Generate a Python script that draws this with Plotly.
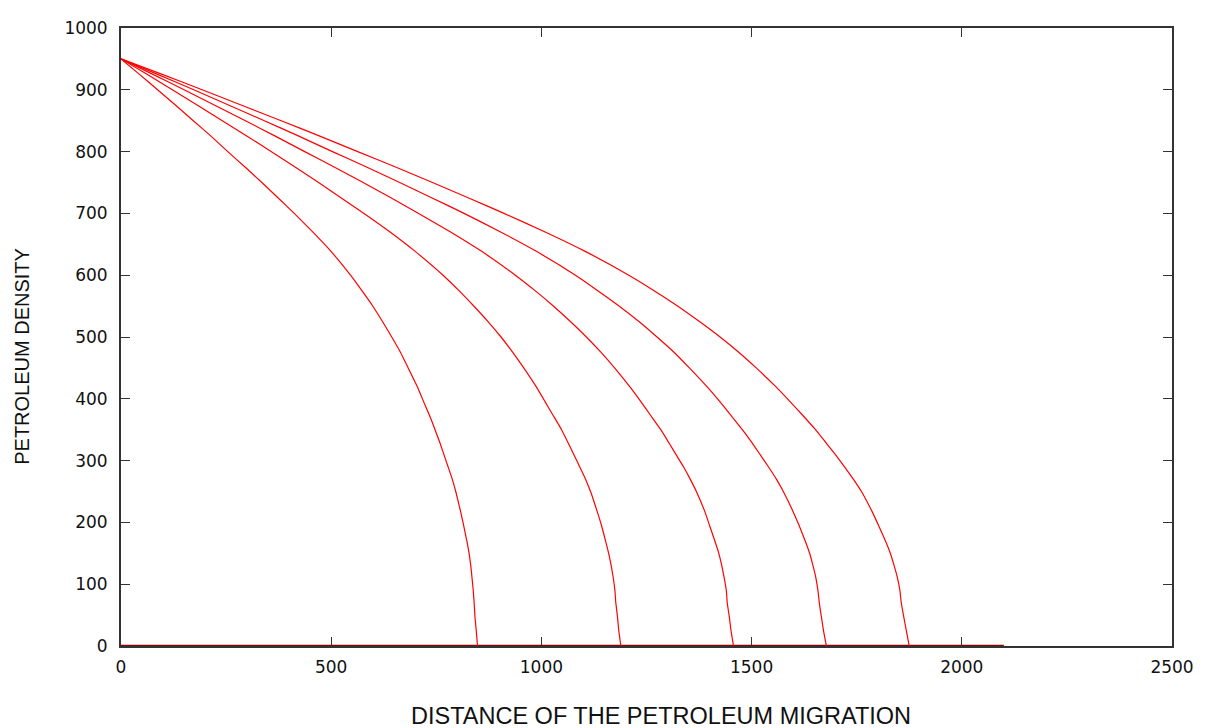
import plotly.graph_objects as go

# Petroleum density (y) levels at which each curve was read
density = [950, 925, 900, 875, 850, 825, 800, 775, 750, 725,
           700, 670, 639, 600, 575, 551, 525, 500, 475, 450,
           418, 395, 373, 350, 328, 310, 290, 270, 248, 217,
           195, 169, 150, 130, 110, 89, 70, 47, 25, 0]

# Migration distance read for each curve at those densities
dist_1 = [0, 44, 87, 130, 172, 214, 254, 295, 335, 374,
          412, 456, 499, 546, 573, 598, 622, 644, 665, 683,
          706, 720, 734, 747, 759, 768, 778, 788, 797, 808,
          815, 823, 828, 832, 835, 838, 840, 842, 845, 848]
dist_2 = [0, 62, 122, 182, 241, 300, 357, 414, 470, 524,
          578, 640, 699, 766, 804, 838, 873, 904, 932, 958,
          989, 1009, 1028, 1048, 1064, 1077, 1091, 1105, 1118, 1133,
          1143, 1153, 1160, 1166, 1171, 1175, 1177, 1181, 1184, 1189]
dist_3 = [0, 76, 150, 223, 296, 367, 437, 507, 576, 643,
          708, 784, 857, 938, 985, 1027, 1069, 1107, 1142, 1174,
          1212, 1237, 1260, 1284, 1304, 1320, 1338, 1354, 1370, 1389,
          1400, 1413, 1422, 1429, 1435, 1440, 1442, 1447, 1451, 1457]
dist_4 = [0, 87, 173, 257, 341, 423, 503, 584, 663, 740,
          816, 903, 987, 1081, 1134, 1183, 1232, 1275, 1316, 1352,
          1396, 1425, 1451, 1478, 1502, 1520, 1540, 1559, 1577, 1599,
          1613, 1628, 1638, 1646, 1653, 1658, 1661, 1666, 1671, 1678]
dist_5 = [0, 98, 193, 287, 381, 473, 563, 653, 741, 827,
          911, 1009, 1103, 1208, 1268, 1322, 1376, 1425, 1470, 1511,
          1560, 1592, 1622, 1652, 1678, 1699, 1721, 1742, 1763, 1787,
          1802, 1819, 1830, 1839, 1847, 1853, 1856, 1862, 1868, 1875]

# Base line drawn at zero density
base_x = [0, 2100]
base_y = [0, 0]

x_ticks = [0, 500, 1000, 1500, 2000, 2500]
y_ticks = [0, 100, 200, 300, 400, 500, 600, 700, 800, 900, 1000]

fig = go.Figure()
fig.add_trace(go.Scatter(x=base_x, y=base_y, mode="lines",
                         line=dict(color="#8b0000", width=2.5),
                         showlegend=False, hoverinfo="skip"))
for d in [dist_1, dist_2, dist_3, dist_4, dist_5]:
    fig.add_trace(go.Scatter(x=d, y=density, mode="lines",
                             line=dict(color="#ff0000", width=1.2, shape="spline", smoothing=0.4),
                             showlegend=False))

axis_common = dict(
    showgrid=False, zeroline=False, showline=True, linecolor="#333333", linewidth=1.8,
    mirror="ticks", ticks="inside", ticklen=9, tickwidth=1.3, tickcolor="#333333",
    tickfont=dict(family="DejaVu Sans", size=17, color="#111111"),
)
fig.update_xaxes(range=[0, 2500], tickvals=x_ticks, ticklabelstandoff=5, **axis_common)
fig.update_yaxes(range=[0, 1000], tickvals=y_ticks, ticklabelstandoff=8, **axis_common)

fig.add_annotation(text="DISTANCE OF THE PETROLEUM MIGRATION", xref="paper", yref="paper",
                   x=0.514, y=0, yanchor="middle", xanchor="center", yshift=-70,
                   showarrow=False, font=dict(family="Liberation Sans", size=23.5, color="#111111"))
fig.add_annotation(text="PETROLEUM DENSITY", xref="paper", yref="paper",
                   x=0, y=0.468, xanchor="center", yanchor="middle", xshift=-99, textangle=-90,
                   showarrow=False, font=dict(family="Liberation Sans", size=20, color="#111111"))

fig.update_layout(
    width=1202, height=720,
    margin=dict(l=113, r=38, t=10, b=82),
    plot_bgcolor="white", paper_bgcolor="white",
)
fig.write_html("out.html")
